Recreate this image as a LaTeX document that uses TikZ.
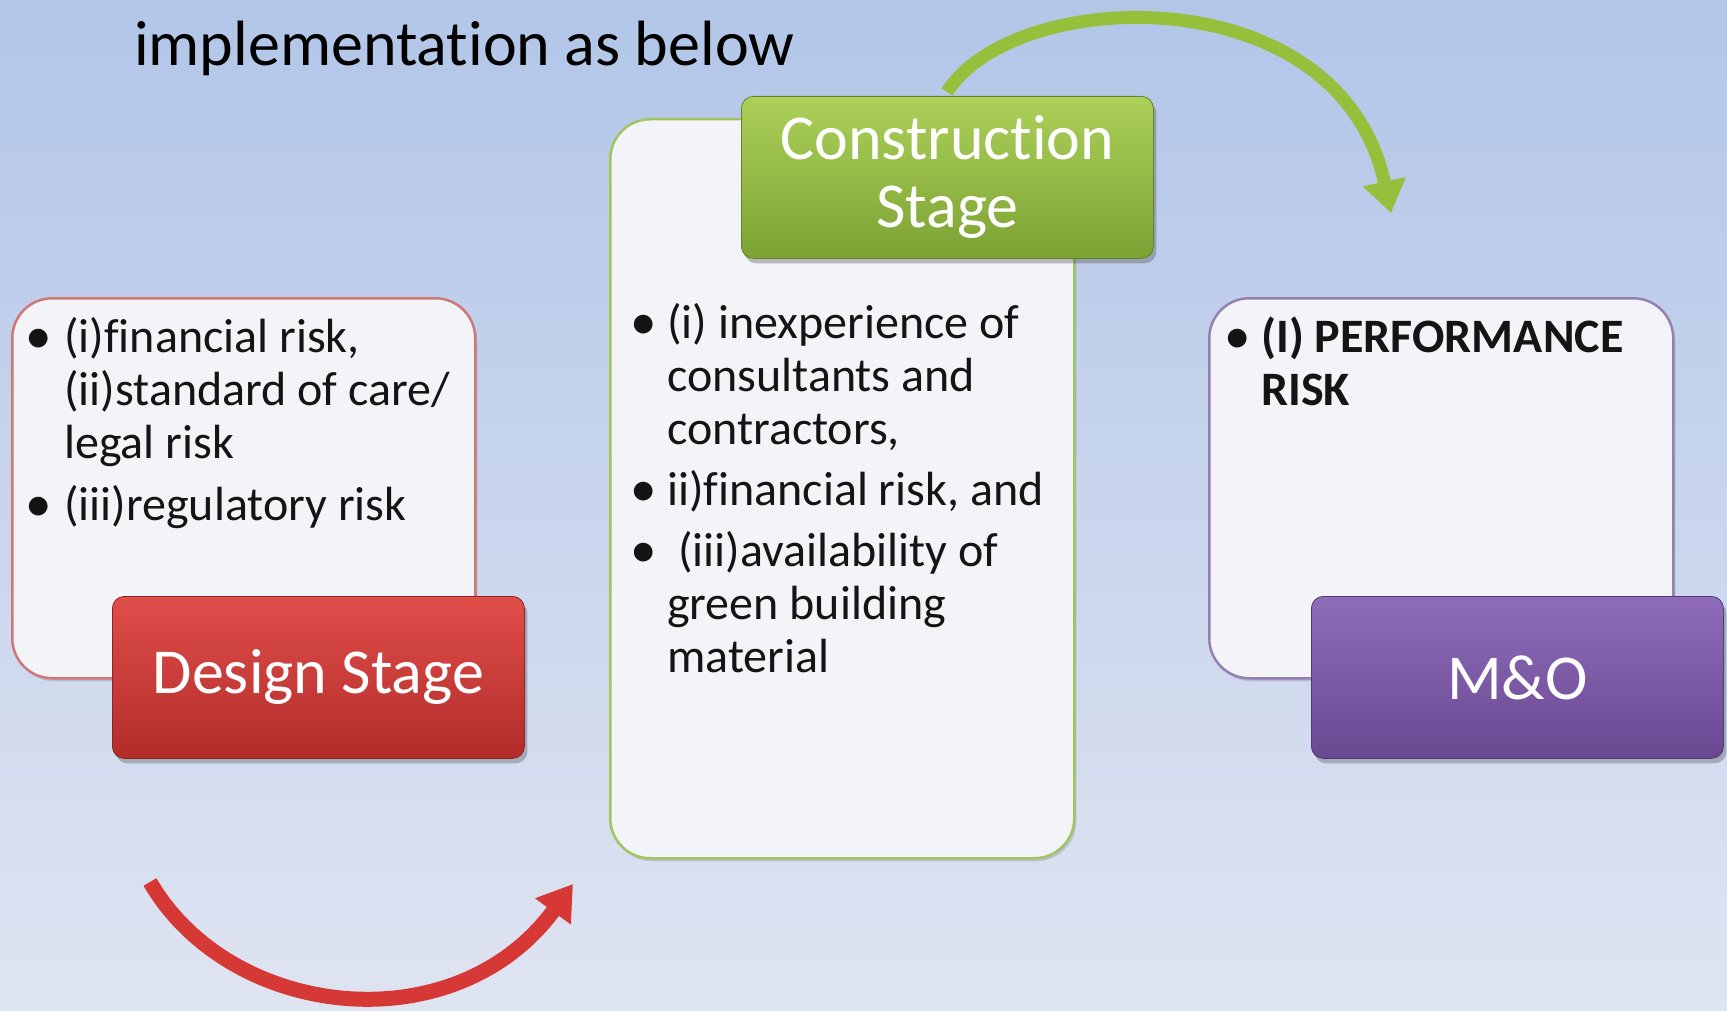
\documentclass[tikz,border=0pt]{standalone}
\usepackage{fontspec}
\setmainfont{Carlito}[Ligatures=NoCommon]
\usetikzlibrary{arrows.meta,shadows}

\definecolor{bgtop}{RGB}{178,198,232}
\definecolor{bgbot}{RGB}{223,228,241}
\definecolor{cardfill}{RGB}{243,244,247}
\definecolor{redtop}{RGB}{224,78,74}
\definecolor{redbot}{RGB}{178,44,42}
\definecolor{redline}{RGB}{205,120,118}
\definecolor{greentop}{RGB}{172,208,88}
\definecolor{greenbot}{RGB}{124,162,52}
\definecolor{greenline}{RGB}{160,196,96}
\definecolor{purptop}{RGB}{143,108,186}
\definecolor{purpbot}{RGB}{105,72,146}
\definecolor{purpline}{RGB}{150,128,178}
\definecolor{txt}{RGB}{20,20,20}
\definecolor{redarrow}{RGB}{214,56,54}
\definecolor{greenarrow}{RGB}{150,192,60}

\tikzset{
  card/.style={draw=#1, line width=2.5pt, fill=cardfill, rounded corners=40pt,
    inner sep=0pt, anchor=north west,
    drop shadow={shadow xshift=2pt, shadow yshift=-3pt, opacity=.25, fill=black!60}},
  stagebox/.style n args={2}{top color=#1, bottom color=#2, draw=#2!80!black,
    line width=0.8pt, rounded corners=12pt, inner sep=0pt, anchor=north west,
    minimum width=412pt, minimum height=162pt,
    drop shadow={shadow xshift=3pt, shadow yshift=-5pt, opacity=.35, fill=black!70}},
  stagelabel/.style={text=white, font=\fontsize{64}{68}\selectfont, align=center},
  itemline/.style={anchor=base west, inner sep=0pt, text=txt,
    font=\fontsize{48}{53}\selectfont},
  boldline/.style={itemline, font=\fontsize{48}{53}\selectfont\bfseries},
  bulletmark/.style={anchor=base, inner sep=0pt, text=txt,
    font=\fontsize{53}{53}\selectfont},
  bigarrow/.style={line width=#1},
}

\begin{document}
\begin{tikzpicture}[x=1pt,y=-1pt]
\useasboundingbox (0,0) rectangle (1727,1011);
\shade[top color=bgtop, bottom color=bgbot] (0,0) rectangle (1727,1011);

% heading
\node[anchor=base west, inner sep=0pt, text=black,
      font=\fontsize{64}{70}\selectfont] (title) at (134,66) {implementation as below};

% text cards
\node[card=redline, minimum width=463pt, minimum height=380pt] (dcard) at (11,297) {};
\node[card=greenline, minimum width=464pt, minimum height=739pt] (ccard) at (609,118) {};
\node[card=purpline, minimum width=464pt, minimum height=380pt] (mcard) at (1208,297) {};

% stage boxes
\node[stagebox={redtop}{redbot}] (design) at (112,596) {};
\node[stagelabel] (designlbl) at (design.center) {Design Stage};
\node[stagebox={greentop}{greenbot}] (constr) at (741,96) {};
\node[stagelabel] (constrlbl) at (constr.center) {Construction\\Stage};
\node[stagebox={purptop}{purpbot}] (mo) at (1311,596) {};
\node[stagelabel] (molbl) at (mo.center) {M\&O};

% design stage risks
\node[bulletmark] (db1) at (39,353) {•};
\node[itemline] (dl1) at (64,352) {(i)financial risk,};
\node[itemline] (dl2) at (64,405) {(ii)standard of care/};
\node[itemline] (dl3) at (64,458) {legal risk};
\node[bulletmark] (db2) at (39,521) {•};
\node[itemline] (dl4) at (64,520) {(iii)regulatory risk};

% construction stage risks
\node[bulletmark] (cb1) at (644,339) {•};
\node[itemline] (cl1) at (667,338) {(i) inexperience of};
\node[itemline] (cl2) at (667,391) {consultants and};
\node[itemline] (cl3) at (667,444) {contractors,};
\node[bulletmark] (cb2) at (644,506) {•};
\node[itemline] (cl4) at (667,505) {ii)financial risk, and};
\node[bulletmark] (cb3) at (644,567) {•};
\node[itemline] (cl5) at (667,566) {\ (iii)availability of};
\node[itemline] (cl6) at (667,619) {green building};
\node[itemline] (cl7) at (667,672) {material};

% M&O risks
\node[bulletmark] (mb1) at (1238,353) {•};
\node[boldline] (ml1) at (1261,352) {(I) PERFORMANCE};
\node[boldline] (ml2) at (1261,405) {RISK};

% curved arrows
\coordinate (rstart) at (150,882);
\coordinate (rend) at (573,884);
\draw[bigarrow=15pt, redarrow, -{Triangle[width=42pt,length=34pt]}]
  (rstart) .. controls (230,1020) and (455,1045) .. (rend);

\coordinate (gstart) at (947,92);
\coordinate (gend) at (1391,213);
\draw[bigarrow=13pt, greenarrow, -{Triangle[width=42pt,length=32pt]}]
  (gstart) .. controls (1015,-15) and (1340,-25) .. (gend);
\end{tikzpicture}
\end{document}
